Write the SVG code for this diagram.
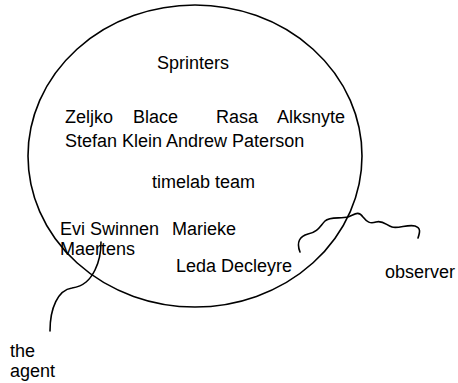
<svg xmlns="http://www.w3.org/2000/svg" width="458" height="383" viewBox="0 0 458 383">
<style>
text{font-family:"Liberation Sans",Arial,sans-serif;font-size:18px;fill:#000}
.ln{fill:none;stroke:#000;stroke-width:1.6;stroke-linecap:round}
</style>
<rect width="458" height="383" fill="#fff"/>
<g id="team">
<ellipse class="ln" cx="195" cy="156" rx="167" ry="151"/>
<text x="157" y="69">Sprinters</text>
<text x="65" y="123">Zeljko</text>
<text x="133" y="123">Blace</text>
<text x="216" y="123">Rasa</text>
<text x="277" y="123">Alksnyte</text>
<text x="65" y="147">Stefan Klein Andrew Paterson</text>
<text x="152" y="188">timelab team</text>
<text x="60" y="235">Evi Swinnen</text>
<text x="172" y="235">Marieke</text>
<text x="60" y="255">Maertens</text>
<text x="176" y="272">Leda Decleyre</text>
</g>
<g id="observer">
<text x="385" y="278">observer</text>
</g>
<g id="agent">
<text x="10" y="357">the</text>
<text x="10" y="377">agent</text>
</g>
<g id="connectors">
<path class="ln" d="M50,331 C50,308 58,290 72,288 C84,286 90,280 95,270 C100,260 101,250 101,242"/>
<path class="ln" d="M300,252 C296,242 300,236 308,234 C318,232 320,226 325,221 C330,216 340,219 348,217 C354,215 358,210 363,217 C367,222 370,224 376,222 C383,220 386,225 392,227 C398,229 408,224 415,226 C421,228 420,232 418,238"/>
</g>
</svg>
